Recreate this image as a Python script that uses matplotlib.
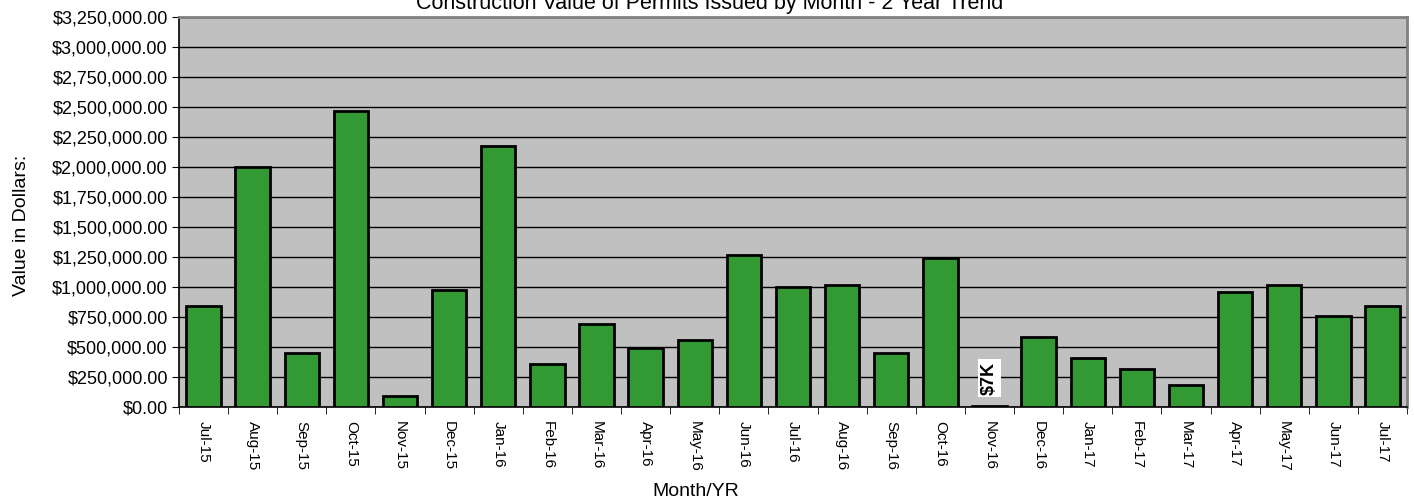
import numpy as np
import matplotlib.pyplot as plt
from matplotlib.ticker import FuncFormatter, FixedLocator

plt.rcParams['font.family'] = ['Liberation Sans', 'DejaVu Sans']

months = ["Jul-15", "Aug-15", "Sep-15", "Oct-15", "Nov-15", "Dec-15", "Jan-16", "Feb-16",
          "Mar-16", "Apr-16", "May-16", "Jun-16", "Jul-16", "Aug-16", "Sep-16", "Oct-16",
          "Nov-16", "Dec-16", "Jan-17", "Feb-17", "Mar-17", "Apr-17", "May-17", "Jun-17", "Jul-17"]
values = [842000, 2000000, 450000, 2467000, 92000, 975000, 2175000, 358000,
          690000, 490000, 560000, 1267000, 1000000, 1017000, 450000, 1242000,
          7000, 583000, 408000, 317000, 183000, 958000, 1017000, 758000, 842000]
note_month = "Nov-16"
note_text = "$7K"

fig = plt.figure(figsize=(14.14, 5.03), dpi=100)
ax = fig.add_axes([179 / 1414, 1 - 407 / 503, (1407 - 179) / 1414, (407 - 17) / 503])
ax.set_facecolor("#c0c0c0")

x = np.arange(len(months))
ax.bar(x, values, width=0.7, color="#339933", edgecolor="black", linewidth=2, zorder=3)

ax.set_xlim(-0.5, len(months) - 0.5)
ax.set_ylim(0, 3250000)
ax.set_yticks(np.arange(0, 3250001, 250000))
ax.yaxis.set_major_formatter(FuncFormatter(lambda v, p: f"${v:,.2f}"))
ax.grid(axis="y", color="black", linewidth=1, zorder=1)

# labels centred, tick marks on the category boundaries
ax.set_xticks(x)
ax.set_xticklabels(months, rotation=270, fontsize=11)
ax.tick_params(axis="x", which="major", length=0, pad=10)
ax.xaxis.set_minor_locator(FixedLocator(np.arange(-0.5, len(months), 1)))
ax.tick_params(axis="x", which="minor", length=5, color="black")
ax.tick_params(axis="y", length=5, labelsize=13, pad=3)

for side in ["top", "right"]:
    ax.spines[side].set_color("#808080")
    ax.spines[side].set_linewidth(2)
ax.spines["left"].set_linewidth(1.2)
ax.spines["bottom"].set_linewidth(1.2)

i = months.index(note_month)
ax.text(i, 240000, note_text, rotation=90, ha="center", va="center", fontsize=13,
        fontweight="bold", zorder=5,
        bbox=dict(facecolor="white", edgecolor="none", pad=2))

fig.text(22 / 1414, 1 - 225 / 503, "Value in Dollars:", rotation=90,
         ha="center", va="center", fontsize=14)
fig.text(0.492, 1 - 492 / 503, "Month/YR", ha="center", va="center", fontsize=14)
fig.text(0.502, 1 - 9 / 503, "Construction Value of Permits Issued by Month - 2 Year Trend",
         ha="center", va="baseline", fontsize=15.5)

fig.savefig("out.png", dpi=100)
